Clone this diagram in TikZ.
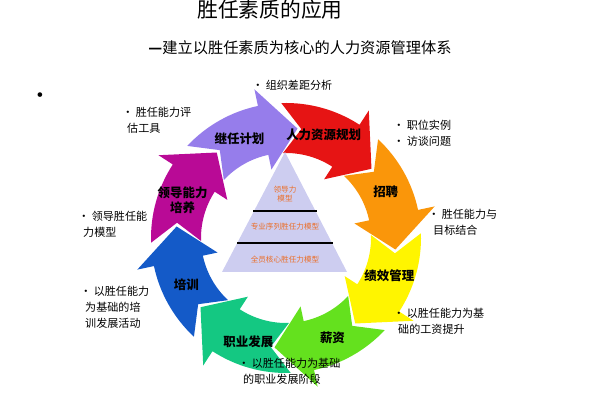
\documentclass[tikz,border=0pt]{standalone}
\usepackage{fontspec}
\setmainfont{Liberation Serif}
\newfontfamily\cjk{Noto Sans CJK SC}
\definecolor{segred}{RGB}{230,20,20}
\definecolor{segorange}{RGB}{250,150,10}
\definecolor{segyellow}{RGB}{255,245,0}
\definecolor{seglime}{RGB}{100,225,30}
\definecolor{segteal}{RGB}{20,200,130}
\definecolor{segblue}{RGB}{20,90,200}
\definecolor{segmagenta}{RGB}{185,10,150}
\definecolor{segpurple}{RGB}{150,125,235}
\definecolor{pyrfill}{RGB}{205,205,240}
\definecolor{pyrtext}{RGB}{235,110,40}

\tikzset{
  seglabel/.style={font=\cjk\fontsize{9}{10.5}\selectfont\bfseries, align=center},
  note/.style={font=\cjk\fontsize{8}{11.5}\selectfont, align=left, anchor=north west, inner sep=0pt},
  pyrlabel/.style={font=\cjk\fontsize{5.5}{7}\selectfont, text=pyrtext, align=center}
}

\begin{document}
\begin{tikzpicture}[x=0.0254cm, y=0.0254cm]
  \useasboundingbox (0,0) rectangle (600,400);
  % titles
  \node[font=\cjk\fontsize{15}{16}\selectfont] (title) at (270,390) {胜任素质的应用};
  \node[font=\cjk\fontsize{11}{12}\selectfont] (subtitle) at (300,352) {\textbf{—}建立以胜任素质为核心的人力资源管理体系};
  \node[font=\fontsize{14}{14}\selectfont] (dot) at (40,303) {•};

  % ring of arrows with their labels
  \begin{scope}[shift={(286,162)}]
    \foreach \a/\col in {-223/segpurple, -178/segmagenta, -133/segblue, -88/segteal,
                         -43/seglime, 2/segyellow, 47/segorange, 92/segred} {
      \fill[\col] (\a:135) arc[start angle=\a, end angle=\a-35, radius=135]
        -- (\a-35:152) -- (\a-53:110) -- (\a-35:70) -- (\a-35:85)
        arc[start angle=\a-35, end angle=\a, radius=85] -- (\a-10:110) -- cycle;
    }
    \node[seglabel] (plan) at (70:110) {人力资源规划};
    \node[seglabel] (hire) at (25:110) {招聘};
    \node[seglabel] (perf) at (-20:110) {绩效管理};
    \node[seglabel] (pay) at (-65:110) {薪资};
    \node[seglabel] (career) at (-110:110) {职业发展};
    \node[seglabel] (train) at (-155:110) {培训};
    \node[seglabel] (lead) at (160:110) {领导能力\\培养};
    \node[seglabel] (succ) at (115:110) {继任计划};
  \end{scope}

  % pyramid
  \fill[pyrfill] (285,248) coordinate (apex) -- (347,128) -- (222,128) -- cycle;
  \draw[thick] (253,189) -- (317,189);
  \draw[thick] (237,157) -- (333,157);
  \node[pyrlabel] (top) at (285,206) {领导力\\模型};
  \node[pyrlabel] (mid) at (285,173) {专业序列胜任力模型};
  \node[pyrlabel] (base) at (285,140) {全员核心胜任力模型};

  % notes
  \node[note] (n1) at (252,320) {• 组织差距分析};
  \node[note] (n2) at (122,293) {• 胜任能力评\\\ \ 估工具};
  \node[note] (n3) at (393,280) {• 职位实例\\• 访谈问题};
  \node[note] (n4) at (428,191) {• 胜任能力与\\\ \ 目标结合};
  \node[note] (n5) at (78,189) {• 领导胜任能\\\ \ 力模型};
  \node[note] (n6) at (80,114) {• 以胜任能力\\\ \ 为基础的培\\\ \ 训发展活动};
  \node[note] (n7) at (393,92) {• 以胜任能力为基\\\ \ 础的工资提升};
  \node[note] (n8) at (238,42) {• 以胜任能力为基础\\\ \ 的职业发展阶段};
\end{tikzpicture}
\end{document}
